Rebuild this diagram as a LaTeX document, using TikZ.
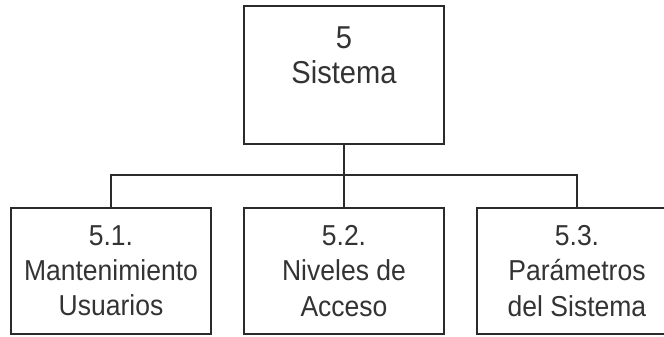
\documentclass[tikz,border=0pt]{standalone}
\usepackage{fontspec}
\setmainfont{Liberation Sans}[FakeStretch=0.92]
\usepackage{tikz}
\usetikzlibrary{
  positioning,
  calc
}
\usepackage{xcolor}
\definecolor{lineagris}{HTML}{2B2B2B}
\definecolor{textogris}{HTML}{333333}
\tikzset{
  modulo/.style={
    rectangle, draw=lineagris, line width=0.8pt, outer sep=0pt,
    minimum width=5cm, text=textogris, align=center
  },
  raiz/.style={modulo, minimum height=3.45cm},
  hoja/.style={modulo, minimum height=3.15cm,
    font=\fontsize{20.5}{25}\selectfont},
  rama/.style={draw=lineagris, line width=0.8pt},
}

\begin{document}
\begin{tikzpicture}[node distance=0.825cm]

\useasboundingbox (-8.6,1.875) rectangle (8,-6.525);

% Root module
\node[raiz] (sis) at (0,0) {};
\node[text=textogris, align=center, font=\fontsize{22.5}{25}\selectfont] (sis-txt) at ([yshift=5mm]sis.center) {5\\Sistema};

% Sub-modules (left to right)
\node[hoja, below=1.6cm of sis] (acc) {5.2.\\Niveles de\\Acceso};
\node[hoja, left=of acc] (usu) {5.1.\\Mantenimiento\\Usuarios};
\node[hoja, right=of acc] (par) {5.3.\\Parámetros\\del Sistema};

% Connectors
\coordinate[below=0.775cm of sis.south] (bus);
\draw[rama] (sis) -- (acc);
\draw[rama] (usu.north) |- (bus) -| (par.north);

\end{tikzpicture}
\end{document}
